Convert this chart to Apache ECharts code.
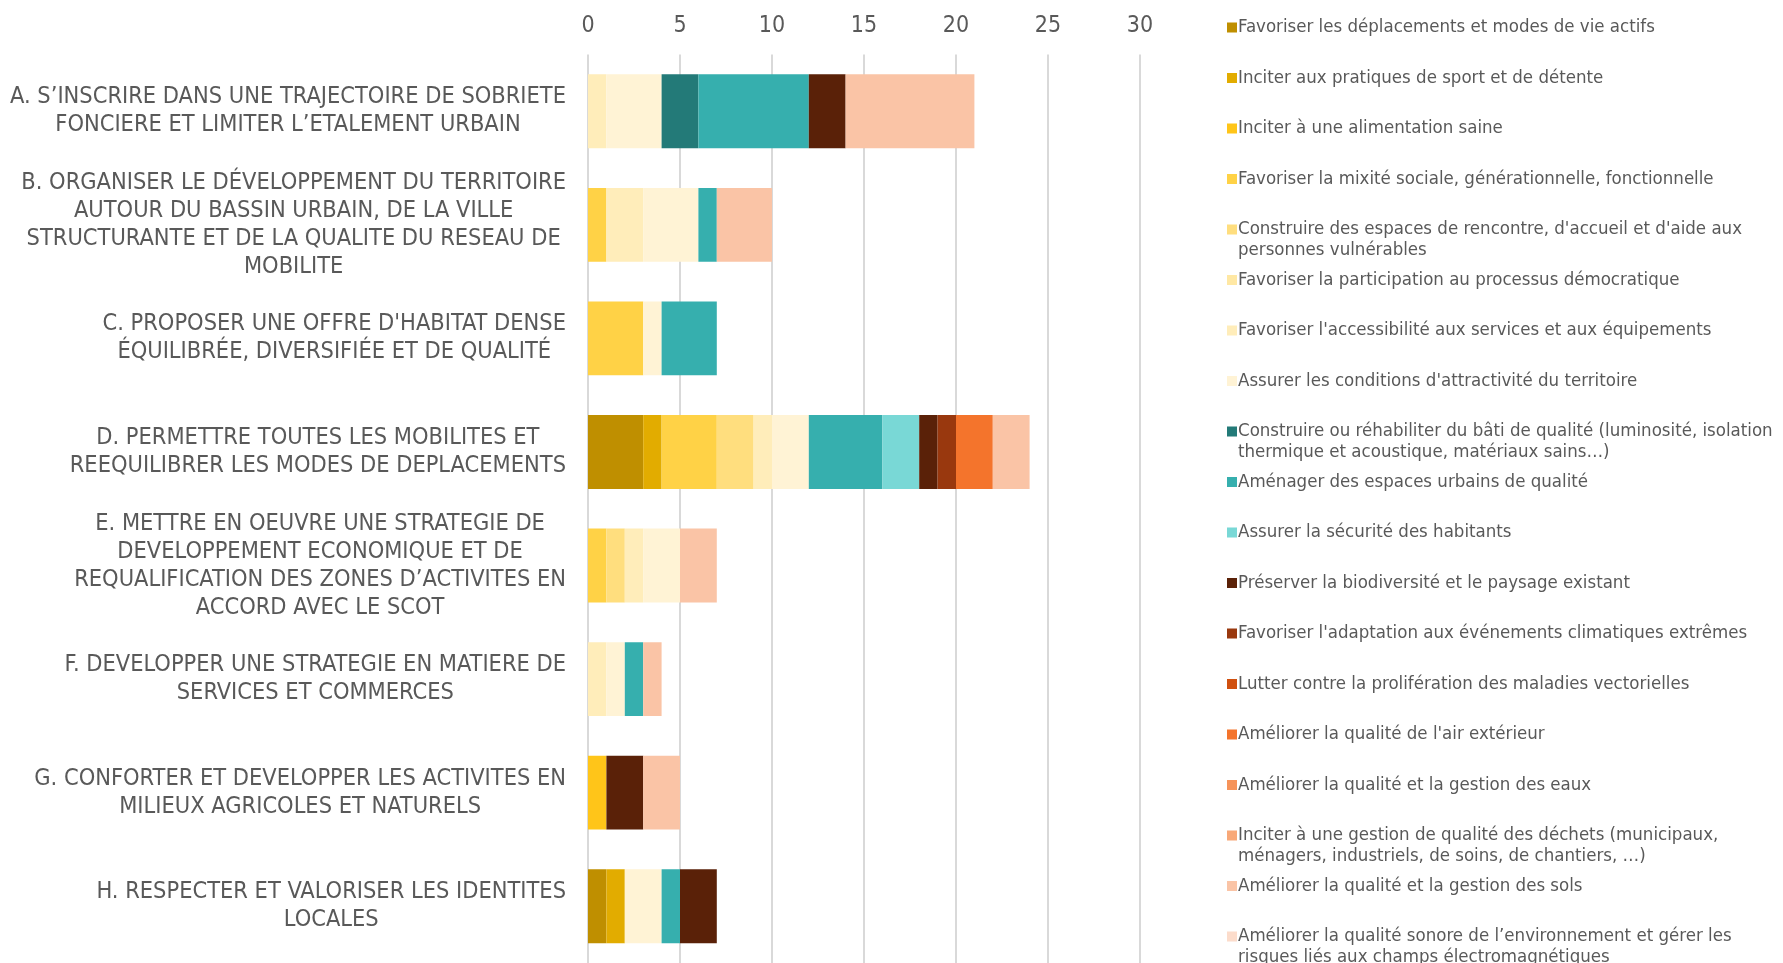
<!DOCTYPE html>
<html>
<head>
<meta charset="utf-8">
<script src="https://cdn.jsdelivr.net/npm/echarts@6/dist/echarts.min.js"></script>
<style>html,body{margin:0;padding:0;background:#fff}#c{width:1783px;height:963px}</style>
</head>
<body>
<div id="c"></div>
<script>
const categories = [
  "A. S’INSCRIRE DANS UNE TRAJECTOIRE DE SOBRIETE\nFONCIERE ET LIMITER L’ETALEMENT URBAIN",
  "B. ORGANISER LE DÉVELOPPEMENT DU TERRITOIRE\nAUTOUR DU BASSIN URBAIN, DE LA VILLE\nSTRUCTURANTE ET DE LA QUALITE DU RESEAU DE\nMOBILITE",
  "C. PROPOSER UNE OFFRE D'HABITAT DENSE\nÉQUILIBRÉE, DIVERSIFIÉE ET DE QUALITÉ",
  "D. PERMETTRE TOUTES LES MOBILITES ET\nREEQUILIBRER LES MODES DE DEPLACEMENTS",
  "E. METTRE EN OEUVRE UNE STRATEGIE DE\nDEVELOPPEMENT ECONOMIQUE ET DE\nREQUALIFICATION DES ZONES D’ACTIVITES EN\nACCORD AVEC LE SCOT",
  "F. DEVELOPPER UNE STRATEGIE EN MATIERE DE\nSERVICES ET COMMERCES",
  "G. CONFORTER ET DEVELOPPER LES ACTIVITES EN\nMILIEUX AGRICOLES ET NATURELS",
  "H. RESPECTER ET VALORISER LES IDENTITES\nLOCALES"
];

const seriesNames = [
  "Favoriser les déplacements et modes de vie actifs",
  "Inciter aux pratiques de sport et de détente",
  "Inciter à une alimentation saine",
  "Favoriser la mixité sociale, générationnelle, fonctionnelle",
  "Construire des espaces de rencontre, d'accueil et d'aide aux personnes vulnérables",
  "Favoriser la participation au processus démocratique",
  "Favoriser l'accessibilité aux services et aux équipements",
  "Assurer les conditions d'attractivité du territoire",
  "Construire ou réhabiliter du bâti de qualité (luminosité, isolation thermique et acoustique, matériaux sains…)",
  "Aménager des espaces urbains de qualité",
  "Assurer la sécurité des habitants",
  "Préserver la biodiversité et le paysage existant",
  "Favoriser l'adaptation aux événements climatiques extrêmes",
  "Lutter contre la prolifération des maladies vectorielles",
  "Améliorer la qualité de l'air extérieur",
  "Améliorer la qualité et la gestion des eaux",
  "Inciter à une gestion de qualité des déchets (municipaux, ménagers, industriels, de soins, de chantiers, …)",
  "Améliorer la qualité et la gestion des sols",
  "Améliorer la qualité sonore de l’environnement et gérer les risques liés aux champs électromagnétiques"
];

// legend display text (line breaks as in the reference)
const legendLabels = [
  "Favoriser les déplacements et modes de vie actifs",
  "Inciter aux pratiques de sport et de détente",
  "Inciter à une alimentation saine",
  "Favoriser la mixité sociale, générationnelle, fonctionnelle",
  "Construire des espaces de rencontre, d'accueil et d'aide aux\npersonnes vulnérables",
  "Favoriser la participation au processus démocratique",
  "Favoriser l'accessibilité aux services et aux équipements",
  "Assurer les conditions d'attractivité du territoire",
  "Construire ou réhabiliter du bâti de qualité (luminosité, isolation\nthermique et acoustique, matériaux sains…)",
  "Aménager des espaces urbains de qualité",
  "Assurer la sécurité des habitants",
  "Préserver la biodiversité et le paysage existant",
  "Favoriser l'adaptation aux événements climatiques extrêmes",
  "Lutter contre la prolifération des maladies vectorielles",
  "Améliorer la qualité de l'air extérieur",
  "Améliorer la qualité et la gestion des eaux",
  "Inciter à une gestion de qualité des déchets (municipaux,\nménagers, industriels, de soins, de chantiers, …)",
  "Améliorer la qualité et la gestion des sols",
  "Améliorer la qualité sonore de l’environnement et gérer les\nrisques liés aux champs électromagnétiques"
];

const seriesColors = [
  "#BF8F00", "#E2AC00", "#FFC519", "#FFD246", "#FFDE7E", "#FFE8A4", "#FFEDBA", "#FFF3D5",
  "#237A78", "#36AFAE", "#79D8D6",
  "#5A2108", "#99380E", "#D0500F", "#F4742C", "#F6935A", "#F8A878", "#FAC4A6", "#FCDCCB"
];

// values per series, in category order A..H
const vDeplacements  = [0, 0, 0, 3, 0, 0, 0, 1];
const vSport         = [0, 0, 0, 1, 0, 0, 0, 1];
const vAlimentation  = [0, 0, 0, 0, 0, 0, 1, 0];
const vMixite        = [0, 1, 3, 3, 1, 0, 0, 0];
const vRencontre     = [0, 0, 0, 2, 1, 0, 0, 0];
const vParticipation = [0, 0, 0, 0, 0, 0, 0, 0];
const vAccessibilite = [1, 2, 0, 1, 1, 1, 0, 0];
const vAttractivite  = [3, 3, 1, 2, 2, 1, 0, 2];
const vBati          = [2, 0, 0, 0, 0, 0, 0, 0];
const vAmenager      = [6, 1, 3, 4, 0, 1, 0, 1];
const vSecurite      = [0, 0, 0, 2, 0, 0, 0, 0];
const vBiodiversite  = [2, 0, 0, 1, 0, 0, 2, 2];
const vAdaptation    = [0, 0, 0, 1, 0, 0, 0, 0];
const vMaladies      = [0, 0, 0, 0, 0, 0, 0, 0];
const vAir           = [0, 0, 0, 2, 0, 0, 0, 0];
const vEaux          = [0, 0, 0, 0, 0, 0, 0, 0];
const vDechets       = [0, 0, 0, 0, 0, 0, 0, 0];
const vSols          = [7, 3, 0, 2, 2, 1, 2, 0];
const vSonore        = [0, 0, 0, 0, 0, 0, 0, 0];

const seriesValues = [vDeplacements, vSport, vAlimentation, vMixite, vRencontre, vParticipation,
  vAccessibilite, vAttractivite, vBati, vAmenager, vSecurite, vBiodiversite, vAdaptation,
  vMaladies, vAir, vEaux, vDechets, vSols, vSonore];

const xTicks = { min: 0, max: 30, interval: 5 };

const FONT = "'Liberation Sans Narrow', 'DejaVu Sans Condensed', 'Liberation Sans', sans-serif";
const TXT = '#595959';

const legendText = {};
seriesNames.forEach((n, i) => {
  const t = legendLabels[i];
  legendText[n] = t.indexOf('\n') >= 0 ? t : t + '\n ';
});

const chart = echarts.init(document.getElementById('c'), null, { renderer: 'canvas' });
chart.setOption({
  animation: false,
  backgroundColor: '#ffffff',
  grid: { left: 588, right: 643, top: 54.5, bottom: -4.5, containLabel: false },
  xAxis: {
    type: 'value', position: 'top', min: xTicks.min, max: xTicks.max, interval: xTicks.interval,
    axisLine: { show: false }, axisTick: { show: false },
    axisLabel: { color: TXT, fontSize: 23, fontFamily: FONT, margin: 17 },
    splitLine: { show: true, lineStyle: { color: '#D9D9D9', width: 2 } }
  },
  yAxis: {
    type: 'category', inverse: true, data: categories,
    axisLine: { show: false }, axisTick: { show: false },
    axisLabel: {
      margin: 22, align: 'right', color: TXT, fontSize: 23.4, fontFamily: FONT, lineHeight: 28,
      formatter: v => v.split('\n').map(l => '{c|' + l + '}').join('\n'),
      rich: { c: { align: 'center', color: TXT, fontSize: 23.4, fontFamily: FONT, lineHeight: 28 } }
    }
  },
  legend: {
    orient: 'vertical', left: 1222, top: 12, height: 1400,
    itemWidth: 10, itemHeight: 42, itemGap: 8.5,
    icon: 'path://M0,0L0.01,0Z M0,5.5L10,5.5L10,15.5L0,15.5Z M0,42L0.01,42Z',
    data: seriesNames,
    formatter: n => legendText[n],
    textStyle: { color: TXT, fontSize: 18.5, fontFamily: FONT, lineHeight: 21, padding: [0, 0, 0, -4] },
    selectedMode: false
  },
  series: seriesNames.map((n, i) => ({
    name: n, type: 'bar', stack: 'total', data: seriesValues[i],
    barCategoryGap: '35%',
    itemStyle: { color: seriesColors[i] },
    emphasis: { disabled: true }
  }))
});
</script>
</body>
</html>
